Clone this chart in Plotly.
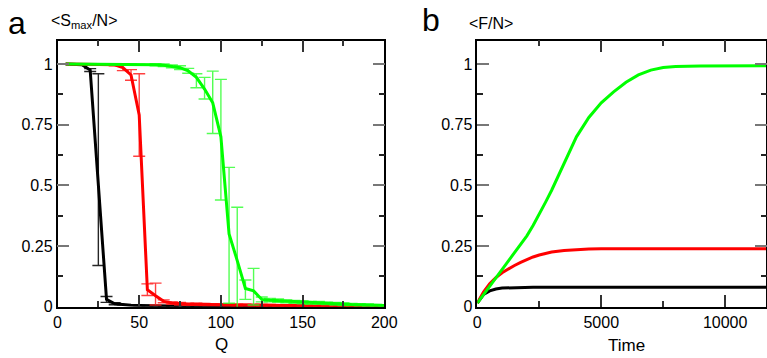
import plotly.graph_objects as go

# ---------------- Panel a data ----------------
Q = [5, 10, 15, 20, 25, 30, 35, 40, 45, 50, 55, 60, 65, 70, 75, 80, 85, 90, 95, 100,
     105, 110, 115, 120, 125, 130, 135, 140, 145, 150, 155, 160, 165, 170, 175, 180, 185, 190, 195, 200]

black_S = [1.0, 1.0, 0.997, 0.975, 0.50, 0.03, 0.012, 0.008, 0.006, 0.005, 0.004, 0.004, 0.003, 0.003, 0.003,
           0.002, 0.002, 0.002, 0.002, 0.002, 0.002, 0.002, 0.002, 0.002, 0.002, 0.002, 0.002, 0.002, 0.002, 0.002,
           0.002, 0.002, 0.002, 0.002, 0.002, 0.002, 0.002, 0.002, 0.002, 0.002]
black_err_plus = [None, None, None, 0.006, 0.46, 0.012, 0.004, None, None, None, None, None, None, None, None,
                  None, None, None, None, None, None, None, None, None, None, None, None, None, None, None,
                  None, None, None, None, None, None, None, None, None, None]
black_err_minus = [None, None, None, 0.006, 0.33, 0.012, 0.004, None, None, None, None, None, None, None, None,
                   None, None, None, None, None, None, None, None, None, None, None, None, None, None, None,
                   None, None, None, None, None, None, None, None, None, None]

red_S = [1.0, 1.0, 1.0, 1.0, 1.0, 1.0, 0.997, 0.985, 0.955, 0.79, 0.07, 0.045, 0.022, 0.015, 0.012,
         0.010, 0.010, 0.009, 0.008, 0.008, 0.007, 0.007, 0.007, 0.006, 0.006, 0.006, 0.005, 0.005, 0.005, 0.005,
         0.004, 0.004, 0.004, 0.004, 0.004, 0.003, 0.003, 0.003, 0.003, 0.003]
red_err_plus = [None, None, None, None, None, None, 0.004, 0.012, 0.022, 0.17, 0.024, 0.052, 0.006, 0.005, 0.005,
                0.004, 0.004, 0.004, 0.003, 0.003, 0.003, 0.003, 0.003, 0.003, 0.003, 0.003, 0.003, 0.003, 0.003, 0.003,
                0.002, 0.002, 0.002, 0.002, 0.002, 0.002, 0.002, 0.002, 0.002, 0.002]
red_err_minus = [None, None, None, None, None, None, 0.004, 0.012, 0.022, 0.17, 0.024, 0.038, 0.006, 0.005, 0.005,
                 0.004, 0.004, 0.004, 0.003, 0.003, 0.003, 0.003, 0.003, 0.003, 0.003, 0.003, 0.003, 0.003, 0.003, 0.003,
                 0.002, 0.002, 0.002, 0.002, 0.002, 0.002, 0.002, 0.002, 0.002, 0.002]

green_S = [1.0, 1.0, 1.0, 1.0, 1.0, 1.0, 1.0, 0.999, 0.999, 0.998, 0.998, 0.997, 0.995, 0.99, 0.985,
           0.972, 0.945, 0.897, 0.84, 0.70, 0.30, 0.19, 0.075, 0.065, 0.03, 0.027, 0.025, 0.022, 0.02, 0.018,
           0.016, 0.016, 0.014, 0.012, 0.01, 0.009, 0.008, 0.007, 0.006, 0.005]
green_err_plus = [None, None, None, None, None, None, None, None, None, None, None, 0.004, 0.005, 0.006, 0.008,
                  0.01, 0.015, 0.048, 0.131, 0.237, 0.274, 0.22, 0.035, 0.093, 0.01, 0.007, 0.007, 0.006, 0.006, 0.006,
                  0.006, 0.006, 0.005, 0.005, 0.005, 0.004, 0.004, 0.004, 0.003, 0.003]
green_err_minus = [None, None, None, None, None, None, None, None, None, None, None, 0.004, 0.005, 0.006, 0.008,
                   0.01, 0.043, 0.041, 0.126, 0.26, 0.286, 0.21, 0.045, 0.058, 0.01, 0.007, 0.007, 0.006, 0.006, 0.006,
                   0.006, 0.006, 0.005, 0.005, 0.005, 0.004, 0.004, 0.004, 0.003, 0.003]

# ---------------- Panel b data ----------------
time = [0, 250, 500, 750, 1000, 1250, 1500, 1750, 2000, 2250, 2500, 2750, 3000, 3500, 4000, 4500, 5000, 5500,
        6000, 6500, 7000, 7500, 8000, 9000, 10000, 11000, 12000]
green_F = [0.015, 0.05, 0.082, 0.115, 0.15, 0.185, 0.222, 0.255, 0.292, 0.335, 0.38, 0.43, 0.48, 0.59, 0.70,
           0.78, 0.84, 0.885, 0.925, 0.955, 0.975, 0.986, 0.99, 0.992, 0.993, 0.993, 0.993]
red_F = [0.015, 0.06, 0.095, 0.12, 0.14, 0.156, 0.17, 0.183, 0.195, 0.205, 0.213, 0.22, 0.225, 0.232, 0.236,
         0.238, 0.239, 0.239, 0.239, 0.239, 0.239, 0.239, 0.239, 0.239, 0.239, 0.239, 0.239]
black_F = [0.015, 0.05, 0.065, 0.073, 0.077, 0.078, 0.079, 0.08, 0.08, 0.08, 0.08, 0.08, 0.08, 0.08, 0.08,
           0.08, 0.08, 0.08, 0.08, 0.08, 0.08, 0.08, 0.08, 0.08, 0.08, 0.08, 0.08]

y_tickvals = [0, 0.25, 0.5, 0.75, 1]
y_ticktext = ["0", "0.25", "0.5", "0.75", "1"]
xa_tickvals = [0, 50, 100, 150, 200]
xa_ticktext = ["0", "50", "100", "150", "200"]
xb_tickvals = [0, 5000, 10000]
xb_ticktext = ["0", "5000", "10000"]

FONT = "Liberation Sans, Arial, Helvetica, sans-serif"
W, H = 767, 358

fig = go.Figure()

def err(plus, minus, color):
    return dict(type="data", symmetric=False, array=plus, arrayminus=minus,
                color=color, thickness=1.4, width=6, visible=True)

fig.add_trace(go.Scatter(x=Q, y=black_S, mode="lines", line=dict(color="#000000", width=3),
                         error_y=err(black_err_plus, black_err_minus, "rgba(0,0,0,0.85)"),
                         xaxis="x", yaxis="y", showlegend=False))
fig.add_trace(go.Scatter(x=Q, y=red_S, mode="lines", line=dict(color="#ff0000", width=3),
                         error_y=err(red_err_plus, red_err_minus, "rgba(255,30,30,0.85)"),
                         xaxis="x", yaxis="y", showlegend=False))
fig.add_trace(go.Scatter(x=Q, y=green_S, mode="lines", line=dict(color="#00ff00", width=3),
                         error_y=err(green_err_plus, green_err_minus, "rgba(40,255,40,0.8)"),
                         xaxis="x", yaxis="y", showlegend=False))

fig.add_trace(go.Scatter(x=time, y=black_F, mode="lines", line=dict(color="#000000", width=3),
                         xaxis="x2", yaxis="y2", showlegend=False))
fig.add_trace(go.Scatter(x=time, y=red_F, mode="lines", line=dict(color="#ff0000", width=3),
                         xaxis="x2", yaxis="y2", showlegend=False))
fig.add_trace(go.Scatter(x=time, y=green_F, mode="lines", line=dict(color="#00ff00", width=3),
                         xaxis="x2", yaxis="y2", showlegend=False))

ydom = [(H - 306.7) / H, (H - 40.5) / H]
ax_common = dict(showline=True, linecolor="black", linewidth=1.5, mirror="ticks",
                 ticks="inside", ticklen=12, tickwidth=1.5, showgrid=False, zeroline=False,
                 automargin=False,
                 tickfont=dict(family=FONT, size=16, color="black"))

fig.update_layout(
    width=W, height=H, margin=dict(l=0, r=0, t=0, b=0, pad=0, autoexpand=False),
    paper_bgcolor="white", plot_bgcolor="white", showlegend=False,
    font=dict(family=FONT, color="black"),
    xaxis=dict(domain=[57.5 / W, 384.3 / W], range=[0, 200], tickvals=xa_tickvals, ticktext=xa_ticktext,
               tickcolor="#333", minor=dict(ticks="inside", ticklen=6, dtick=25, tickcolor="#333", tickwidth=1.5),
               anchor="y", **ax_common),
    yaxis=dict(domain=ydom, range=[0, 1.097], tickvals=y_tickvals, ticktext=y_ticktext,
               tickcolor="#777", minor=dict(ticks="inside", ticklen=6, dtick=0.125, tickcolor="#222", tickwidth=1.5),
               anchor="x", **ax_common),
    xaxis2=dict(domain=[477.3 / W, 766.3 / W], range=[0, 11660], tickvals=xb_tickvals, ticktext=xb_ticktext,
                tickcolor="#333", minor=dict(ticks="inside", ticklen=6, dtick=2500, tickcolor="#333", tickwidth=1.5),
                anchor="y2", **ax_common),
    yaxis2=dict(domain=ydom, range=[0, 1.097], tickvals=y_tickvals, ticktext=y_ticktext,
                tickcolor="#777", minor=dict(ticks="inside", ticklen=6, dtick=0.125, tickcolor="#222", tickwidth=1.5),
                anchor="x2", **ax_common),
)

ann = [
    dict(text="a", x=16.7 / W, y=(H - 23) / H, font=dict(size=32)),
    dict(text="b", x=431 / W, y=(H - 20) / H, font=dict(size=32)),
    dict(text="&lt;S<sub>max</sub>/N&gt;", x=49 / W, y=(H - 22) / H, xanchor="left", font=dict(size=16)),
    dict(text="&lt;F/N&gt;", x=466.7 / W, y=(H - 23) / H, xanchor="left", font=dict(size=16)),
    dict(text="Q", x=222 / W, y=(H - 344) / H, font=dict(size=17)),
    dict(text="Time", x=626.7 / W, y=(H - 345) / H, font=dict(size=17)),
]
for a in ann:
    a.setdefault("xanchor", "center")
    fig.add_annotation(xref="paper", yref="paper", yanchor="middle", showarrow=False,
                       font=dict(family=FONT, color="black", size=a.pop("font")["size"]), **a)

fig.write_html("out.html")
